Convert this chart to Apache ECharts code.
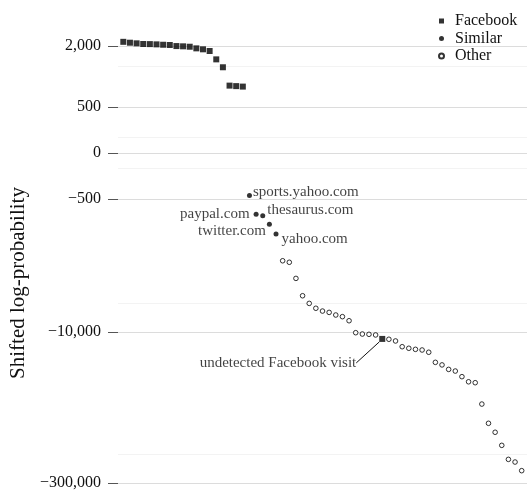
<!DOCTYPE html>
<html><head><meta charset="utf-8">
<script src="https://cdn.jsdelivr.net/npm/echarts@6/dist/echarts.min.js"></script>
<style>html,body{margin:0;padding:0;background:#fff}#c{width:527px;height:493px}</style>
</head><body><div id="c"></div>
<script>
// ---- data (rank order) ----
const logProb = [
  2170, 2135, 2110, 2085, 2080, 2070, 2055, 2045, 2005, 1995,
  1980, 1920, 1885, 1825, 1550, 1320, 880, 870, 860,
  -450, -705, -730, -885, -1100,
  -2010, -2080, -2990, -4420, -5250, -5860, -6240, -6430, -6820, -7080,
  -7760, -10160, -10470, -10540, -10690,
  -11690,
  -11780, -12240, -13930, -14430, -14780, -15000, -15780, -19810, -20990, -23220,
  -24100, -27350, -30690, -31340, -50700, -78200, -95700, -128500, -176200, -187100,
  -227300
];
const facebookRanks = [1,2,3,4,5,6,7,8,9,10,11,12,13,14,15,16,17,18,19,40];
const similarRanks = [20,21,22,23,24];
const siteNames = {20:'sports.yahoo.com', 21:'paypal.com', 22:'thesaurus.com', 23:'twitter.com', 24:'yahoo.com', 40:'undetected Facebook visit'};
const seriesNames = ['Facebook', 'Similar', 'Other'];
const yTicks = [2000, 500, 0, -500, -10000, -300000];
const yMinorLines = [1350, 135, -130, -5200, -156000];

// ---- scale of the source figure (symmetric-log style) ----
function symlog(v) {
  if (v >= -500) return Math.sign(v) * Math.log10(1 + Math.abs(v) / 500);
  return -(Math.log10(2) + 0.669 * Math.log10(-v / 500));
}
function fmtTick(t) {
  const s = String(Math.abs(t)).replace(/\B(?=(\d{3})+(?!\d))/g, ',');
  return t < 0 ? '\u2212' + s : s;
}
const SERIF = "'Liberation Serif', 'Times New Roman', serif";
const TXT = '#111';

const labelPlacement = {
  'sports.yahoo.com': {position: 'right', distance: 1, offset: [0, -4]},
  'paypal.com': {position: 'left', distance: 4, offset: [0, 0]},
  'thesaurus.com': {position: 'right', distance: 2, offset: [0, -6]},
  'twitter.com': {position: 'left', distance: 1, offset: [0, 7]},
  'yahoo.com': {position: 'right', distance: 3, offset: [0, 5]}
};

const allRanks = logProb.map((_, i) => i + 1);
const otherRanks = allRanks.filter(r => facebookRanks.indexOf(r) < 0 && similarRanks.indexOf(r) < 0);

function makePoint(r) {
  const item = {value: [r, symlog(logProb[r - 1])]};
  const name = siteNames[r];
  if (name && labelPlacement[name]) {
    item.label = Object.assign({show: true, formatter: name}, labelPlacement[name]);
  } else if (name) {
    item.label = {show: true, position: 'left', formatter: name};
    item.labelLine = {show: true, lineStyle: {color: TXT, width: 1}};
  }
  return item;
}

const labelBase = {fontFamily: SERIF, fontSize: 15, color: TXT};
const tickPos = yTicks.map(symlog);
const yMin = -2.2251, yMax = 0.8704;

const option = {
  animation: false,
  backgroundColor: '#fff',
  grid: {left: 118, right: 0, top: 20, bottom: 0, containLabel: false, outerBoundsMode: 'none'},
  legend: {
    data: seriesNames,
    orient: 'vertical', left: 433, top: 8,
    itemWidth: 5, itemHeight: 5, itemGap: 1.5,
    selectedMode: false,
    textStyle: {fontFamily: SERIF, fontSize: 16, color: TXT, lineHeight: 16, padding: [0, 0, 0, 6]}
  },
  xAxis: {type: 'value', min: 0.2, max: 61.8, show: false},
  yAxis: [{
    type: 'value', min: yMin, max: yMax, position: 'left',
    axisLine: {show: false},
    axisTick: {show: true, length: 10, customValues: tickPos, lineStyle: {color: '#555'}},
    axisLabel: {
      customValues: tickPos, margin: 17,
      fontFamily: SERIF, fontSize: 16, color: TXT,
      formatter: function (v) {
        let best = yTicks[0], d = Infinity;
        yTicks.forEach(t => { const dd = Math.abs(symlog(t) - v); if (dd < d) { d = dd; best = t; } });
        return fmtTick(best);
      }
    },
    splitLine: {show: true, lineStyle: {color: '#dcdcdc', width: 1}},
    name: 'Shifted log-probability', nameLocation: 'middle', nameGap: 89,
    nameTextStyle: {fontFamily: SERIF, fontSize: 21, color: TXT, padding: [0, 53, 0, 0]}
  }, {
    type: 'value', min: yMin, max: yMax, position: 'left',
    axisLine: {show: false},
    axisTick: {show: false, customValues: yMinorLines.map(symlog)},
    axisLabel: {show: false, customValues: yMinorLines.map(symlog)},
    splitLine: {show: true, lineStyle: {color: '#f3f3f3', width: 1}}
  }],
  series: [{
    name: seriesNames[0], type: 'scatter', yAxisIndex: 0,
    symbol: 'rect', symbolSize: 6,
    itemStyle: {color: '#000'},
    label: labelBase,
    labelLayout: function (p) {
      if (p.dataIndex === facebookRanks.indexOf(40)) return {dx: -18, dy: 24};
    },
    emphasis: {disabled: true},
    data: facebookRanks.map(makePoint), z: 3
  }, {
    name: seriesNames[1], type: 'scatter', yAxisIndex: 0,
    symbol: 'circle', symbolSize: 5,
    itemStyle: {color: '#000'},
    label: labelBase,
    emphasis: {disabled: true},
    data: similarRanks.map(makePoint), z: 3
  }, {
    name: seriesNames[2], type: 'scatter', yAxisIndex: 0,
    symbol: 'circle', symbolSize: 4.6,
    itemStyle: {color: '#fff', borderColor: '#000', borderWidth: 1},
    emphasis: {disabled: true},
    data: otherRanks.map(makePoint), z: 2
  }]
};
const chart = echarts.init(document.getElementById('c'));
chart.setOption(option);
</script></body></html>
